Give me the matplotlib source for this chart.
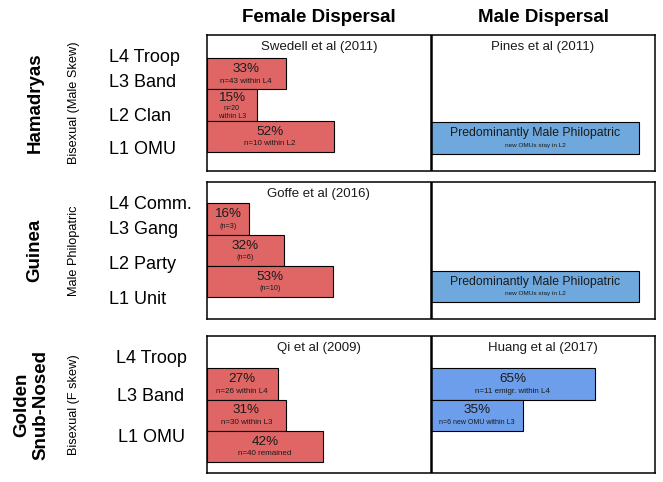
import matplotlib
matplotlib.use("Agg")
import matplotlib.pyplot as plt
from matplotlib.transforms import blended_transform_factory

plt.rcParams["font.family"] = ["Liberation Sans", "DejaVu Sans"]

# --- data -------------------------------------------------------------
species = ["Hamadryas", "Guinea", "Golden\nSnub-Nosed"]
systems = ["Bisexual (Male Skew)", "Male Philopatric", "Bisexual (F skew)"]
levels = [
    ["L4 Troop", "L3 Band", "L2 Clan", "L1 OMU"],
    ["L4 Comm.", "L3 Gang", "L2 Party", "L1 Unit"],
    ["L4 Troop", "L3 Band", "L1 OMU"],
]
female_refs = ["Swedell et al (2011)", "Goffe et al (2016)", "Qi et al (2009)"]
male_refs = ["Pines et al (2011)", "", "Huang et al (2017)"]

female_pct = [["33%", "15%", "52%"], ["16%", "32%", "53%"], ["27%", "31%", "42%"]]
female_len = [[35.3, 22.3, 56.7], [19.0, 34.6, 56.3], [31.7, 35.3, 52.0]]
female_n = [
    ["n=43 within L4", "n=20\nwithin L3", "n=10 within L2"],
    ["(n=3)", "(n=6)", "(n=10)"],
    ["n=26 within L4", "n=30 within L3", "n=40 remained"],
]

male_pct = [["Predominantly Male Philopatric"], ["Predominantly Male Philopatric"], ["65%", "35%"]]
male_len = [[93.0], [93.0], [73.2, 41.2]]
male_n = [["new OMUs stay in L2"], ["new OMUs stay in L2"],
          ["n=11 emigr. within L4", "n=6 new OMU within L3"]]
male_rows = [[2], [2], [0, 1]]

# --- layout / style ----------------------------------------------------
W, H = 663, 482
panel_top = [34.7, 182.3, 336.0]
panel_bot = [171.0, 319.0, 473.3]
bar_px = 31.3
female_top = [0.75, 0.67, 1.03]
male_top = [0.80, 0.82, 1.03]
label_y = [[0.73, 1.52, 2.60, 3.67], [0.70, 1.52, 2.62, 3.74], [0.71, 1.92, 3.24]]
label_x = [109, 109, 151]
label_ha = ["left", "left", "center"]
species_x = [35, 35, 31.5]
female_small_fs = [[5.8, 5.0, 5.8], [5.2, 5.2, 5.2], [5.8, 5.8, 5.8]]
male_small_fs = [[4.6], [4.6], [5.8, 5.0]]
male_colors = ["#6FA8DC", "#6FA8DC", "#6D9EEB"]
red = "#E06666"
txt = "#1a1a1a"

fig = plt.figure(figsize=(W / 100, H / 100), dpi=100)

fig.text(318.8 / W, 1 - 18 / H, "Female Dispersal", ha="center", va="center",
         fontsize=13.5, fontweight="bold")
fig.text(543 / W, 1 - 18 / H, "Male Dispersal", ha="center", va="center",
         fontsize=13.5, fontweight="bold")


def bar_text(ax, x0, length, top, main, small, main_fs, small_fs):
    xc = x0 + length / 2
    main_y = 0.26 if "\n" in small else 0.35
    ax.text(xc, top + main_y, main, ha="center", va="center", fontsize=main_fs, color=txt)
    ax.text(xc, top + 0.73, small, ha="center", va="center", fontsize=small_fs,
            color=txt, linespacing=1.25)


for i in range(3):
    top_px, bot_px = panel_top[i], panel_bot[i]
    ph = (bot_px - top_px) / bar_px
    ax = fig.add_axes([206.7 / W, 1 - bot_px / H, 448.3 / W, (bot_px - top_px) / H])
    ax.set_xlim(0, 200)
    ax.set_ylim(ph, 0)
    ax.set_xticks([])
    ax.set_yticks([])
    for s in ax.spines.values():
        s.set_linewidth(1.1)
    ax.axvline(100, color="black", lw=1.8)

    # female bars
    for r, (p, L, n) in enumerate(zip(female_pct[i], female_len[i], female_n[i])):
        y = female_top[i] + r
        ax.barh(y, L, height=1, left=0, align="edge", color=red,
                edgecolor="black", linewidth=0.8)
        bar_text(ax, 0, L, y, p, n, 9.7, female_small_fs[i][r])

    # male bars
    for k, (p, L, n) in enumerate(zip(male_pct[i], male_len[i], male_n[i])):
        y = male_top[i] + male_rows[i][k]
        ax.barh(y, L, height=1, left=100, align="edge", color=male_colors[i],
                edgecolor="black", linewidth=0.8)
        fs = 8.8 if len(p) > 5 else 9.7
        bar_text(ax, 100, L, y, p, n, fs, male_small_fs[i][k])

    ax.text(50, 0.38, female_refs[i], ha="center", va="center", fontsize=9.5, color=txt)
    if male_refs[i]:
        ax.text(150, 0.38, male_refs[i], ha="center", va="center", fontsize=9.5, color=txt)

    # level labels
    tr = blended_transform_factory(fig.transFigure, ax.transData)
    for lab, ly in zip(levels[i], label_y[i]):
        ax.text(label_x[i] / W, ly, lab, transform=tr, ha=label_ha[i], va="center",
                fontsize=13, clip_on=False)

    yc = 1 - (top_px + bot_px) / 2 / H
    fig.text(species_x[i] / W, yc, species[i], rotation=90, ha="center", va="center",
             fontsize=13.5, fontweight="bold", multialignment="center", linespacing=1.2)
    fig.text(74 / W, yc, systems[i], rotation=90, ha="center", va="center", fontsize=9.2)

fig.savefig("out.png", dpi=100)
